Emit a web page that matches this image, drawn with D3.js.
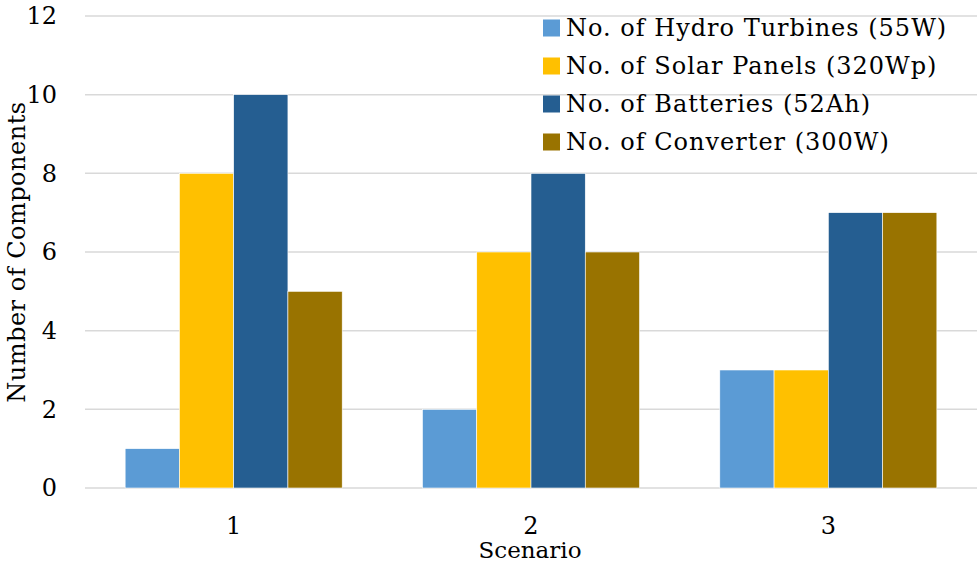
<!DOCTYPE html>
<html><head><meta charset="utf-8">
<script src="https://cdn.jsdelivr.net/npm/d3@7"></script>
<style>body{margin:0;background:#fff}svg{display:block}
text{font-family:"DejaVu Serif","Liberation Serif","Noto Serif",serif;}</style>
</head><body>
<svg id="c" width="977" height="562"></svg>
<script>
const categories = ["1","2","3"];
const seriesNames = ["No. of Hydro Turbines (55W)","No. of Solar Panels (320Wp)","No. of Batteries (52Ah)","No. of Converter (300W)"];
const hydro = [1,2,3];
const solar = [8,6,3];
const batteries = [10,8,7];
const converter = [5,6,7];
const yTicks = [0,2,4,6,8,10,12];
const colors = ["#5B9BD5","#FFC000","#255E91","#997300"];

const series = [hydro, solar, batteries, converter];
const svg = d3.select("#c");
const x0 = d3.scaleBand().domain(categories).range([85,977]).paddingInner(0.27).paddingOuter(0.135);
const x1 = d3.scaleBand().domain(d3.range(series.length)).range([0,x0.bandwidth()]);
const y = d3.scaleLinear().domain([0,12]).range([488,16]);

svg.append("g").selectAll("line").data(yTicks).join("line")
  .attr("x1",85).attr("x2",977).attr("y1",d=>y(d)).attr("y2",d=>y(d))
  .attr("stroke","#d9d9d9").attr("stroke-width",1.5);

svg.append("g").selectAll("text").data(yTicks).join("text")
  .attr("x",57).attr("y",d=>y(d)).attr("dy","0.35em").attr("text-anchor","end")
  .attr("font-size",24).attr("fill","#000").text(d=>d);

const g = svg.append("g");
categories.forEach((c,ci)=>{
  series.forEach((s,si)=>{
    g.append("rect").attr("x",x0(c)+x1(si)).attr("width",x1.bandwidth())
      .attr("y",y(s[ci])).attr("height",y(0)-y(s[ci]))
      .attr("fill",colors[si]).attr("stroke","#fff").attr("stroke-width",0.6);
  });
});

svg.append("g").selectAll("text").data(categories).join("text")
  .attr("x",d=>x0(d)+x0.bandwidth()/2).attr("y",526).attr("dy","0.35em").attr("text-anchor","middle")
  .attr("font-size",24).attr("fill","#000").text(d=>d);

svg.append("text").attr("x",530).attr("y",550).attr("dy","0.35em").attr("text-anchor","middle")
  .attr("font-size",23).text("Scenario");
svg.append("text").attr("transform","translate(17,252) rotate(-90)").attr("dy","0.35em").attr("text-anchor","middle")
  .attr("font-size",24).attr("letter-spacing",0.5).text("Number of Components");

const lg = svg.append("g");
seriesNames.forEach((n,i)=>{
  const cy = 28 + i*38;
  lg.append("rect").attr("x",543).attr("y",cy-8.5).attr("width",17).attr("height",17).attr("fill",colors[i]);
  lg.append("text").attr("x",566).attr("y",cy).attr("dy","0.35em")
    .attr("font-size",24).attr("letter-spacing",1).text(n);
});
</script>
</body></html>
